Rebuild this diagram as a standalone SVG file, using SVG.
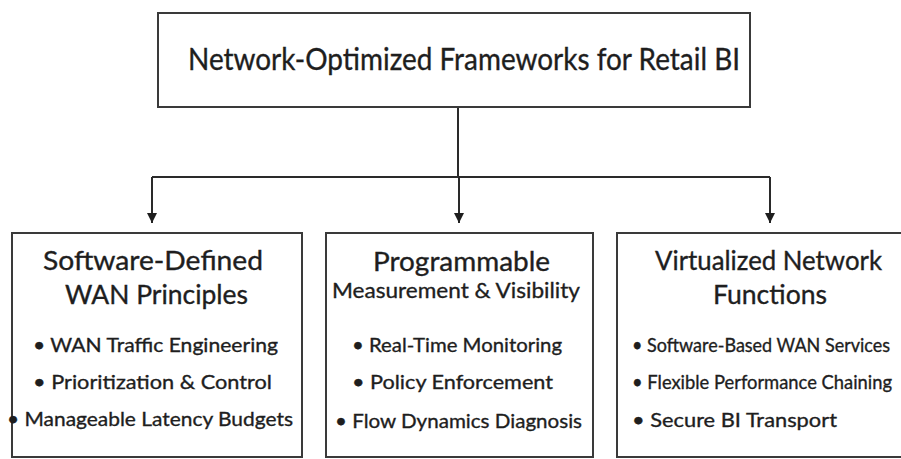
<svg xmlns="http://www.w3.org/2000/svg" width="901" height="459" viewBox="0 0 901 459">
  <style>
    .box { fill: #ffffff; stroke: #3a3a3a; stroke-width: 2; }
    .wire { fill: none; stroke: #2a2a2a; stroke-width: 2; }
    .t { font-family: Lato, "Open Sans", "Liberation Sans", sans-serif; fill: #1e1e1e; stroke: #1e1e1e; stroke-width: 0.35; }
    .main { font-size: 31px; }
    .head { font-size: 26.5px; }
    .sub { font-size: 22px; }
    .item { font-size: 20px; }
  </style>
  <defs>
    <marker id="arrow" markerWidth="12" markerHeight="12" refX="10" refY="5" orient="auto" markerUnits="userSpaceOnUse">
      <path d="M0,0 L10,5 L0,10 Z" fill="#1e1e1e"/>
    </marker>
  </defs>
  <rect width="901" height="459" fill="#ffffff"/>

  <!-- links from the root node down to the three framework blocks -->
  <g id="connectors">
    <path class="wire" d="M458,107 V177"/>
    <path class="wire" d="M152,177 H770"/>
    <path class="wire" d="M152,177 V223" marker-end="url(#arrow)"/>
    <path class="wire" d="M459,177 V223" marker-end="url(#arrow)"/>
    <path class="wire" d="M770,177 V223" marker-end="url(#arrow)"/>
  </g>

  <g id="root">
    <rect class="box" x="158" y="13" width="592" height="94"/>
    <text class="t main" x="188" y="70" textLength="552" lengthAdjust="spacingAndGlyphs">Network-Optimized Frameworks for Retail BI</text>
  </g>

  <g id="sdwan">
    <rect class="box" x="12" y="233" width="290" height="224"/>
    <text class="t head" x="43" y="270" textLength="220" lengthAdjust="spacingAndGlyphs">Software-Defined</text>
    <text class="t head" x="65" y="304" textLength="183" lengthAdjust="spacingAndGlyphs">WAN Principles</text>
    <text class="t item" x="33" y="352" textLength="245" lengthAdjust="spacingAndGlyphs">• WAN Traffic Engineering</text>
    <text class="t item" x="33" y="389" textLength="239" lengthAdjust="spacingAndGlyphs">• Prioritization &amp; Control</text>
    <text class="t item" x="7" y="426" textLength="286" lengthAdjust="spacingAndGlyphs">• Manageable Latency Budgets</text>
  </g>

  <g id="measurement">
    <rect class="box" x="326" y="233" width="267" height="224"/>
    <text class="t head" x="373" y="271" textLength="177" lengthAdjust="spacingAndGlyphs">Programmable</text>
    <text class="t sub" x="332" y="298" textLength="248" lengthAdjust="spacingAndGlyphs">Measurement &amp; Visibility</text>
    <text class="t item" x="352" y="352" textLength="210" lengthAdjust="spacingAndGlyphs">• Real-Time Monitoring</text>
    <text class="t item" x="352" y="389" textLength="201" lengthAdjust="spacingAndGlyphs">• Policy Enforcement</text>
    <text class="t item" x="335" y="428" textLength="247" lengthAdjust="spacingAndGlyphs">• Flow Dynamics Diagnosis</text>
  </g>

  <g id="vnf">
    <rect class="box" x="617" y="233" width="310" height="224"/>
    <text class="t head" x="655" y="270" textLength="227" lengthAdjust="spacingAndGlyphs">Virtualized Network</text>
    <text class="t head" x="713" y="304" textLength="114" lengthAdjust="spacingAndGlyphs">Functions</text>
    <text class="t item" x="632" y="352" textLength="258" lengthAdjust="spacingAndGlyphs">• Software-Based WAN Services</text>
    <text class="t item" x="632" y="389" textLength="260" lengthAdjust="spacingAndGlyphs">• Flexible Performance Chaining</text>
    <text class="t item" x="632" y="427" textLength="205" lengthAdjust="spacingAndGlyphs">• Secure BI Transport</text>
  </g>
</svg>
